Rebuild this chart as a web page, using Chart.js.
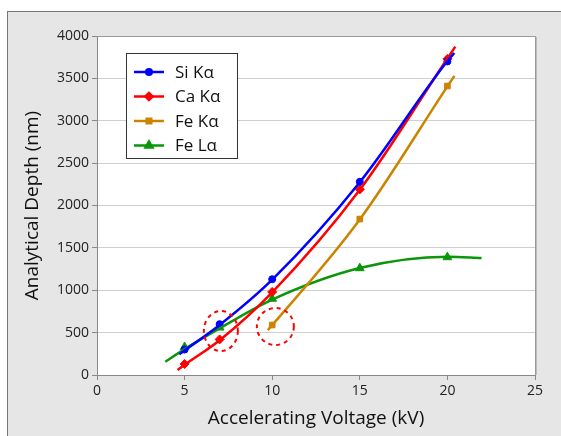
<!DOCTYPE html>
<html>
<head>
<meta charset="utf-8">
<script src="https://cdn.jsdelivr.net/npm/chart.js@4.4.1/dist/chart.umd.min.js"></script>
<style>
  body { margin: 0; background: #fff; }
  canvas { display: block; }
</style>
</head>
<body>
<canvas id="chart" width="561" height="436"></canvas>
<script>
// measured points (markers)
const voltages = [5, 7, 10, 15, 20];
const siK = [300, 600, 1130, 2280, 3700];
const caK = [130, 420, 980, 2190, 3730];
const feKVolts = [10, 15, 20];
const feK = [590, 1840, 3410];
const feL = [330, 560, 900, 1260, 1390];

// fitted trend curves
const siTrendX = [4.7, 5, 7, 10, 15, 20, 20.4];
const siTrendY = [245, 290, 590, 1125, 2275, 3705, 3800];
const caTrendX = [4.6, 5, 7, 10, 15, 20, 20.45];
const caTrendY = [60, 120, 410, 975, 2185, 3735, 3874];
const feKTrendX = [9.75, 10, 15, 20, 20.4];
const feKTrendY = [530, 588, 1835, 3405, 3530];
const feLTrendX = [3.9, 5, 7, 10, 15, 20, 21.95];
const feLTrendY = [157, 305, 550, 890, 1262, 1395, 1381];

// highlighted points (dashed circles)
const circleX = [7.07, 10.18];
const circleY = [519, 572];

const xTicks = [0, 5, 10, 15, 20, 25];
const yTicks = [0, 500, 1000, 1500, 2000, 2500, 3000, 3500, 4000];

const series = [
  { label: 'Si K\u03b1', color: '#0000ff', style: 'circle', r: 3.5, x: voltages, y: siK, tx: siTrendX, ty: siTrendY },
  { label: 'Ca K\u03b1', color: '#ff0000', style: 'rectRot', r: 4.5, x: voltages, y: caK, tx: caTrendX, ty: caTrendY },
  { label: 'Fe K\u03b1', color: '#cc8400', style: 'rect', r: 4, x: feKVolts, y: feK, tx: feKTrendX, ty: feKTrendY },
  { label: 'Fe L\u03b1', color: '#0a960a', style: 'triangle', r: 5, x: voltages, y: feL, tx: feLTrendX, ty: feLTrendY }
];

const pts = (xs, ys) => xs.map((v, i) => ({ x: v, y: ys[i] }));

const datasets = [];
series.forEach(s => {
  datasets.push({
    label: s.label + ' fit',
    data: pts(s.tx, s.ty),
    showLine: true,
    borderColor: s.color,
    borderWidth: 2.5,
    pointRadius: 0,
    cubicInterpolationMode: 'monotone'
  });
});
series.forEach(s => {
  datasets.push({
    label: s.label,
    data: pts(s.x, s.y),
    showLine: false,
    pointStyle: s.style,
    pointRadius: s.r,
    backgroundColor: s.color,
    borderColor: s.color,
    borderWidth: 1
  });
});

const font = 'Open Sans';

const frame = {
  id: 'frame',
  beforeDraw(chart) {
    const ctx = chart.ctx, a = chart.chartArea;
    ctx.save();
    ctx.fillStyle = '#fff';
    ctx.fillRect(0, 0, chart.width, chart.height);
    ctx.fillStyle = '#e6e6e6';
    ctx.fillRect(7, 11, chart.width, chart.height);
    ctx.strokeStyle = '#777';
    ctx.lineWidth = 1;
    ctx.strokeRect(7.5, 11.5, chart.width + 10, chart.height + 10);
    ctx.fillStyle = '#fff';
    ctx.fillRect(a.left, a.top, a.right - a.left, a.bottom - a.top);
    ctx.restore();
  },
  afterDatasetsDraw(chart) {
    const ctx = chart.ctx, a = chart.chartArea;
    const xs = chart.scales.x, ys = chart.scales.y;
    ctx.save();
    // plot border top / right
    ctx.strokeStyle = '#999';
    ctx.lineWidth = 1;
    ctx.beginPath();
    ctx.moveTo(a.left, a.top + 0.5);
    ctx.lineTo(a.right + 0.5, a.top + 0.5);
    ctx.lineTo(a.right + 0.5, a.bottom);
    ctx.stroke();
    ctx.strokeStyle = '#bbb';
    ctx.beginPath();
    ctx.moveTo(a.right + 1.5, a.top + 1);
    ctx.lineTo(a.right + 1.5, a.bottom);
    ctx.stroke();

    // dashed circles
    ctx.strokeStyle = '#ff0000';
    ctx.lineWidth = 2;
    ctx.setLineDash([4, 4]);
    const radii = [[17, 20], [18.5, 18.5]];
    circleX.forEach((cx, i) => {
      ctx.beginPath();
      ctx.ellipse(xs.getPixelForValue(cx), ys.getPixelForValue(circleY[i]), radii[i][0], radii[i][1], 0, 0, Math.PI * 2);
      ctx.stroke();
    });
    ctx.setLineDash([]);

    // legend box
    const lx = 126.5, ly = 53.5, lw = 111, lh = 105;
    ctx.fillStyle = '#fff';
    ctx.fillRect(lx, ly, lw, lh);
    ctx.strokeStyle = '#333';
    ctx.lineWidth = 1;
    ctx.strokeRect(lx, ly, lw, lh);
    ctx.font = '17px "' + font + '"';
    ctx.textBaseline = 'middle';
    series.forEach((s, i) => {
      const yy = 72 + i * 24.5;
      ctx.strokeStyle = s.color;
      ctx.lineWidth = 2.5;
      ctx.beginPath();
      ctx.moveTo(134, yy);
      ctx.lineTo(164, yy);
      ctx.stroke();
      ctx.fillStyle = s.color;
      ctx.beginPath();
      Chart.helpers.drawPoint(ctx, { pointStyle: s.style, radius: s.r * 0.8, borderWidth: 1 }, 149, yy);
      ctx.fill();
      ctx.fillStyle = '#111';
      ctx.fillText(s.label, 175, yy + 1);
    });
    ctx.restore();
  }
};

new Chart(document.getElementById('chart'), {
  type: 'scatter',
  data: { datasets },
  options: {
    responsive: false,
    animation: false,
    layout: { padding: { top: 36, right: 26, left: 0, bottom: 0 } },
    plugins: { legend: { display: false }, tooltip: { enabled: false } },
    scales: {
      x: {
        type: 'linear', min: 0, max: 25,
        afterBuildTicks: s => { s.ticks = xTicks.map(v => ({ value: v })); },
        afterFit: s => { s.height = 61; },
        ticks: { color: '#222', font: { family: font, size: 14 }, padding: 3, callback: v => String(v) },
        grid: { drawOnChartArea: false, tickLength: 5, tickColor: '#888' },
        border: { color: '#888' },
        title: { display: true, text: 'Accelerating Voltage (kV)', color: '#111', font: { family: font, size: 19 }, padding: { top: 0, bottom: 6 } }
      },
      y: {
        min: 0, max: 4000,
        afterBuildTicks: s => { s.ticks = yTicks.map(v => ({ value: v })); },
        afterFit: s => { s.width = 97; },
        ticks: { color: '#222', font: { family: font, size: 14 }, padding: 3, callback: v => String(v) },
        grid: { color: '#cfcfcf', tickLength: 5, tickColor: '#888' },
        border: { color: '#888' },
        title: { display: true, text: 'Analytical Depth (nm)', color: '#111', font: { family: font, size: 19 }, padding: { top: 21, bottom: 0 } }
      }
    }
  },
  plugins: [frame]
});
</script>
</body>
</html>
